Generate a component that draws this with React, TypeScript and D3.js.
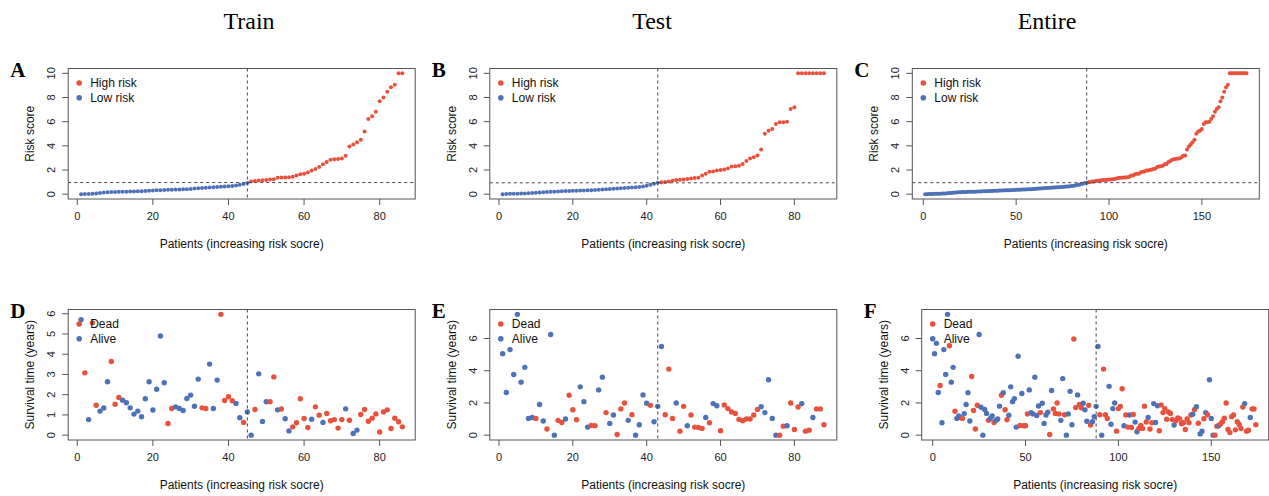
import React from 'react';
import * as d3 from 'd3';

// risk scores, sorted (Train n=86, Test n=88)
const trainRisk = [
  0.003, 0.015, 0.02, 0.04, 0.055, 0.10, 0.13, 0.15, 0.17, 0.18,
  0.19, 0.20, 0.21, 0.22, 0.23, 0.24, 0.25, 0.27, 0.28, 0.30,
  0.32, 0.33, 0.35, 0.36, 0.37, 0.38, 0.39, 0.40, 0.41, 0.43,
  0.46, 0.49, 0.51, 0.53, 0.55, 0.58, 0.60, 0.62, 0.64, 0.66,
  0.68, 0.72, 0.78, 0.85, 0.92,
  1.05, 1.10, 1.13, 1.16, 1.18, 1.22, 1.24, 1.35, 1.37, 1.38,
  1.39, 1.45, 1.55, 1.64, 1.68, 1.80, 1.95, 2.08, 2.25, 2.48,
  2.66, 2.84, 2.88, 2.92, 2.96, 3.18, 3.94, 4.12, 4.30, 4.50,
  5.18, 6.22, 6.45, 6.83, 7.68, 8.00, 8.48, 8.85, 9.05, 10, 10,
];
const testRisk = [
  0.000, 0.010, 0.025, 0.030, 0.035, 0.045, 0.050, 0.07, 0.10, 0.12,
  0.14, 0.16, 0.18, 0.19, 0.20, 0.22, 0.24, 0.26, 0.27, 0.28,
  0.29, 0.30, 0.31, 0.32, 0.33, 0.35, 0.37, 0.39, 0.41, 0.43,
  0.45, 0.47, 0.49, 0.51, 0.53, 0.55, 0.57, 0.60, 0.64, 0.70,
  0.78, 0.87, 0.94,
  0.98, 1.00, 1.05, 1.12, 1.18, 1.20, 1.22, 1.25, 1.30, 1.33,
  1.35, 1.55, 1.70, 1.85, 1.88, 1.95, 2.00, 2.05, 2.12, 2.28,
  2.32, 2.35, 2.50, 2.75, 2.95, 3.05, 3.20, 3.70, 5.00, 5.25,
  5.40, 5.80, 5.95, 5.95, 6.00, 7.05, 7.20, 10, 10, 10,
  10, 10, 10, 10, 10,
];
const trainLow = 45;
const testLow = 43;
const cutoffs = [0.96, 0.94, 0.95];

// survival time (years), same order as risk
const trainTime = [
  5.70, 3.08, 0.77, 5.55, 1.48, 1.19, 1.34, 2.64, 3.64, 1.53,
  1.86, 1.73, 1.60, 1.35, 1.04, 1.19, 0.91, 1.80, 2.64, 1.24,
  2.27, 4.90, 2.59, 0.58, 1.32, 1.40, 1.32, 1.22, 1.81, 1.98,
  1.43, 2.77, 1.35, 1.32, 3.51, 1.32, 2.72, 5.97, 1.71, 1.90,
  1.70, 1.57, 0.86, 0.63, 1.15, 0.00, 1.27, 3.03, 0.68, 1.65,
  1.65, 2.88, 1.25, 1.29, 0.81, 0.21, 0.41, 0.61, 1.80, 0.82,
  0.38, 0.79, 1.40, 0.99, 0.63, 1.07, 0.71, 0.77, 0.35, 0.77,
  1.30, 0.74, 0.08, 0.25, 1.02, 1.27, 0.69, 0.84, 1.05, 0.16,
  1.15, 1.25, 0.33, 0.84, 0.66, 0.41,
];
// 1 = dead, 0 = alive
const trainDead = [
  0, 1, 0, 1, 1, 0, 0, 0, 1, 1,
  1, 0, 0, 0, 0, 0, 0, 0, 0, 0,
  0, 0, 0, 1, 1, 0, 0, 0, 0, 0,
  0, 0, 1, 1, 0, 0, 0, 1, 1, 1,
  1, 0, 0, 1, 0, 0, 1, 0, 0, 0,
  1, 1, 0, 1, 0, 0, 1, 1, 1, 1,
  1, 0, 1, 1, 0, 1, 1, 1, 1, 1,
  0, 1, 0, 0, 1, 1, 1, 1, 1, 1,
  1, 1, 1, 1, 1, 1,
];
const testTime = [
  5.06, 2.65, 5.31, 3.77, 7.50, 3.29, 4.21, 1.04, 1.10, 1.04,
  1.90, 0.88, 0.38, 6.25, 0.00, 0.92, 0.79, 1.00, 2.48, 1.58,
  0.96, 3.00, 2.08, 0.50, 0.60, 0.58, 2.81, 3.60, 1.40, 0.73,
  1.25, 0.04, 1.63, 2.00, 0.92, 1.27, 0.00, 0.65, 2.50, 1.98,
  1.85, 0.83, 1.79, 5.50, 1.27, 4.10, 1.04, 2.00, 0.25, 1.79,
  0.58, 1.25, 0.50, 0.48, 0.42, 1.10, 0.77, 1.96, 1.83, 0.27,
  1.88, 1.65, 1.44, 1.35, 0.98, 0.90, 1.00, 1.00, 1.25, 1.60,
  1.77, 1.40, 3.44, 1.04, 0.00, 0.00, 0.56, 0.58, 2.00, 0.35,
  1.75, 1.96, 0.25, 0.31, 1.10, 1.63, 1.63, 0.65,
];
const testDead = [
  0, 0, 0, 0, 0, 0, 0, 0, 0, 1,
  0, 0, 1, 0, 0, 1, 1, 0, 1, 1,
  1, 0, 0, 0, 1, 1, 0, 0, 1, 0,
  0, 1, 1, 1, 0, 1, 0, 0, 0, 0,
  1, 0, 0, 0, 1, 1, 1, 0, 1, 1,
  0, 1, 1, 1, 1, 0, 1, 0, 0, 1,
  1, 1, 1, 1, 1, 1, 1, 1, 1, 1,
  0, 0, 0, 0, 0, 1, 1, 0, 1, 1,
  1, 0, 1, 1, 0, 1, 1, 1,
];

const colTitles = ['Train', 'Test', 'Entire'];
const letters = ['A', 'B', 'C', 'D', 'E', 'F'];

const RED = '#E8513C';
const BLUE = '#4E72B8';
const AXIS = '#555';
const SANS = '"Liberation Sans", Arial, sans-serif';
const SERIF = '"Liberation Serif", "Times New Roman", serif';

type Rec = { risk: number; time: number; dead: number };
const toRecs = (risk: number[], time: number[], dead: number[]): Rec[] =>
  risk.map((r, i) => ({ risk: r, time: time[i], dead: dead[i] }));

const trainRecs = toRecs(trainRisk, trainTime, trainDead);
const testRecs = toRecs(testRisk, testTime, testDead);
// the entire cohort is both sets together, ordered by risk score
const entireRecs = [...trainRecs, ...testRecs].sort((a, b) => a.risk - b.risk);

type Pt = { v: number; red: boolean };

function Panel(props: {
  left: number; top: number; width: number; height: number;
  pts: Pt[]; yMax: number; yTicks: number[]; xTicks: number[];
  vline: number; hline?: number; legend: string[]; letter: string;
  yTitle: string; r: number;
}) {
  const { left, top, width, height, pts, yMax, yTicks, xTicks, vline, hline, legend, letter, yTitle, r } = props;
  const n = pts.length;
  const x = d3.scaleLinear().domain([1 - 0.04 * (n - 1), n + 0.04 * (n - 1)]).range([left, left + width]);
  const y = d3.scaleLinear().domain([-0.04 * yMax, yMax * 1.04]).range([top + height, top]);
  const bottom = top + height;
  const right = left + width;
  return (
    <g>
      <text x={left - 58} y={top + 8} fontFamily={SERIF} fontWeight="bold" fontSize={21}>{letter}</text>
      {pts.map((p, i) => (
        <circle key={i} cx={x(i + 1)} cy={y(p.v)} r={r} fill={p.red ? RED : BLUE} />
      ))}
      <line x1={x(vline)} x2={x(vline)} y1={top} y2={bottom} stroke="#444" strokeWidth={1} strokeDasharray="3,3" />
      {hline !== undefined && (
        <line x1={left} x2={right} y1={y(hline)} y2={y(hline)} stroke="#444" strokeWidth={1} strokeDasharray="3,3" />
      )}
      <rect x={left} y={top} width={width} height={height} fill="none" stroke={AXIS} strokeWidth={1} />
      {xTicks.map(t => (
        <g key={t}>
          <line x1={x(t)} x2={x(t)} y1={bottom} y2={bottom + 6} stroke={AXIS} />
          <text x={x(t)} y={bottom + 21} textAnchor="middle" fontFamily={SANS} fontSize={11} fill="#222">{t}</text>
        </g>
      ))}
      {yTicks.map(t => (
        <g key={t}>
          <line x1={left - 6} x2={left} y1={y(t)} y2={y(t)} stroke={AXIS} />
          <text transform={`translate(${left - 13},${y(t)}) rotate(-90)`} textAnchor="middle" fontFamily={SANS} fontSize={11} fill="#222">{t}</text>
        </g>
      ))}
      <text x={(left + right) / 2} y={bottom + 49} textAnchor="middle" fontFamily={SANS} fontSize={12} fill="#111">
        Patients (increasing risk socre)
      </text>
      <text transform={`translate(${left - 34},${(top + bottom) / 2}) rotate(-90)`} textAnchor="middle" fontFamily={SANS} fontSize={12} fill="#111">
        {yTitle}
      </text>
      {legend.map((s, i) => (
        <g key={s}>
          <circle cx={left + 11} cy={top + 14.5 + i * 14.8} r={2.8} fill={i === 0 ? RED : BLUE} />
          <text x={left + 22} y={top + 14.5 + i * 14.8} dominantBaseline="central" fontFamily={SANS} fontSize={12} fill="#111">{s}</text>
        </g>
      ))}
    </g>
  );
}

export default function App() {
  const sets = [
    { recs: trainRecs, low: trainLow },
    { recs: testRecs, low: testLow },
    { recs: entireRecs, low: trainLow + testLow },
  ];
  const lefts1 = [68.2, 489.8, 912.3];
  const lefts2 = [68.2, 489.8, 921.7];
  const centers = [249, 652, 1047];
  return (
    <svg width={1269} height={496} style={{ position: 'absolute', left: 0, top: 0, background: '#fff' }}>
      {colTitles.map((t, i) => (
        <text key={t} x={centers[i]} y={29} textAnchor="middle" fontFamily={SERIF} fontSize={24}>{t}</text>
      ))}
      {sets.map((s, i) => {
        const xTicks = i === 2 ? [0, 50, 100, 150] : [0, 20, 40, 60, 80];
        const tMax = d3.max(s.recs, d => d.time) as number;
        return (
          <g key={i}>
            <Panel
              left={lefts1[i]} top={68.5} width={347} height={130.5}
              pts={s.recs.map((d, j) => ({ v: d.risk, red: j >= s.low }))}
              yMax={10} yTicks={[0, 2, 4, 6, 8, 10]} xTicks={xTicks}
              vline={s.low} hline={cutoffs[i]} legend={['High risk', 'Low risk']}
              letter={letters[i]} yTitle="Risk score" r={2}
            />
            <Panel
              left={lefts2[i]} top={309.5} width={347} height={130.5}
              pts={s.recs.map(d => ({ v: d.time, red: d.dead === 1 }))}
              yMax={tMax} yTicks={tMax < 7 ? [0, 1, 2, 3, 4, 5, 6] : [0, 2, 4, 6]} xTicks={xTicks}
              vline={s.low} legend={['Dead', 'Alive']}
              letter={letters[i + 3]} yTitle="Survival time (years)" r={2.7}
            />
          </g>
        );
      })}
    </svg>
  );
}
